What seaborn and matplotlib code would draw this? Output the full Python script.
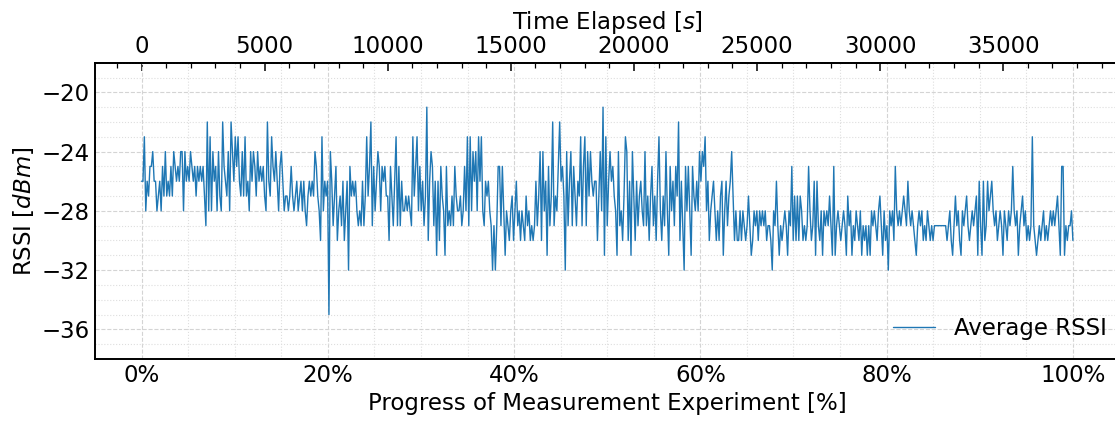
import numpy as np
import pandas as pd
import matplotlib
matplotlib.use("Agg")
import matplotlib.pyplot as plt
import seaborn as sns
from matplotlib.ticker import MultipleLocator, PercentFormatter

# ---- data (average RSSI in dBm, in chronological segments) ----
seg1 = [-26,-26,-23,-28,-26,-27,-25,-25,-24,-26,-26,-28,-27,-26,-28,-25,-27,-24,-27,-26,-27,-25,-27,-24,-25,-26,-25,-26,
        -24,-24,-28,-24,-26,-25,-26,-24,-25,-26,-25,-27,-25,-26,-25,-26,-25,-27,-29,-22,-28,-23,-28,-24,-26,-25,-28,-24,
        -27,-28,-22,-25,-26,-27,-24,-28,-22,-24,-26,-23,-25,-23,-26,-27,-24,-27,-23,-27,-26,-28,-24,-26,-24,-25,-27,-24,-26]
seg2 = [-25,-26,-25,-27,-28,-22,-26,-27,-23,-25,-26,-24,-26,-28,-25,-24,-26,-28,-27,-27,-28,-27,-25,-27,-28,-27,-26,-28,
        -27,-26,-28,-26,-28,-29,-27,-26,-27,-26,-27,-24,-25,-27,-28,-30,-23,-28,-26,-27,-26,-35,
        -24,-26,-29,-27,-25,-30,-28,-27,-29,-26,-30,-28,-26,-32,-25,-27,-26,-27,-26,-28,-29,-28,-29,-26,-29,-27,-23,-27,
        -25,-22,-29,-25,-28,-26,-24,-25]
seg3 = [-28,-25,-26,-25,-27,-27,-30,-25,-27,-29,-26,-23,-29,-25,-29,-26,-28,-28,-27,-28,-27,-28,-29,-23,-27,-25,-23,-28,
        -25,-28,-26,-29,-27,-21,-30,-26,-24,-25,-29,-26,-31,-26,-30,-25,-27,-28,-31,-25,-29,-28,-29,-27,-29,-25,-27,-28,
        -28,-27,-29,-28,-25,-28,-23,-29,-23,-28,-24,-26,-24,-28,-23,-26,-23,-28,-29,-26,-27,-26,-28,-29,-32,-29,-32,-29,-25]
seg4 = [-25,-29,-25,-28,-31,-28,-29,-30,-28,-27,-30,-28,-26,-29,-28,-30,-28,-29,-30,-27,-29,-28,-30,-29,-30,-29,-26,-29,
        -27,-24,-30,-24,-28,-26,-31,-25,-29,-27,-22,-29,-27,-28,-25,-22,-26,-25,-27,-32,-24,-29,-26,-24,-29,-25,-27,-29,
        -26,-27,-23,-29,-25,-23,-29,-24,-27,-24,-26,-27,-26,-26,-30,-27,-24,-28,-21,-31,-23,-29,-26,-24,-26,-25,-27,-28,-31,-24]
seg5 = [-29,-28,-30,-27,-23,-24,-30,-26,-31,-24,-27,-30,-26,-29,-27,-26,-28,-29,-24,-29,-27,-30,-27,-25,-29,-27,-30,-26,
        -23,-28,-30,-27,-29,-24,-28,-31,-25,-28,-26,-29,-25,-27,-22,-30,-26,-29,-32,-25,-28,-25,-28,-31,-25,-27,-28,-26,
        -28,-24,-26,-24,-25,-23,-28,-26,-30,-28,-27,-26,-28,-30,-28,-30,-27,-26,-31,-28,-26,-29,-27,-26,-24,-27,-30,-28,-30]
seg6 = [-30,-28,-30,-28,-29,-30,-29,-27,-29,-31,-30,-28,-29,-28,-30,-28,-29,-28,-29,-28,-30,-29,-29,-30,-32,-28,-29,
        -26,-29,-31,-29,-30,-29,-28,-29,-31,-28,-29,-25,-30,-27,-30,-27,-30,-27,-28,-30,-29,-30,-29,-25,-28,-30,-29,
        -26,-31,-26,-29,-30,-28,-31,-28,-29,-28,-29,-27,-29,-31,-25,-31,-29,-28,-29,-30,-29,-28,-29,-31,-27,-29,-28,
        -31,-29,-30,-28,-29]
seg7 = [-30,-28,-31,-29,-30,-29,-31,-29,-31,-28,-29,-28,-29,-30,-28,-27,-29,-31,-28,-30,-29,-32,-28,-29,-28,-30,-25,
        -28,-29,-28,-29,-28,-27,-28,-29,-26,-28,-29,-28,-29,-30,-31,-29,-28,-29,-28,-30,-29,-30,-28,-29,-30,-29,-30,
        -29,-29,-29,-29,-29,-29,-29,-29,-29,-30,-29,-28,-30,-31,-29,-27,-29,-28,-30,-31,-28,-29,-28,-27,-29,-30,-29,
        -28,-29,-28,-27,-31,-26]
seg8 = [-29,-31,-26,-30,-29,-26,-28,-27,-26,-28,-29,-28,-30,-29,-28,-29,-31,-28,-29,-30,-28,-29,-28,-25,
        -28,-29,-28,-31,-29,-28,-27,-29,-28,-30,-29,-30,-29,-23,-29,-30,-31,-30,-29,-30,-29,-28,-30,-29,-30,-29,
        -28,-29,-28,-29,-28,-27,-29,-31,-25,-25,-31,-29,-30,-29,-29,-28,-30]

total_seconds = 37830          # duration of the experiment
time_ticks = [0, 5000, 10000, 15000, 20000, 25000, 30000, 35000]
series_label = "Average RSSI"

rssi = np.array(seg1 + seg2 + seg3 + seg4 + seg5 + seg6 + seg7 + seg8, dtype=float)
progress = np.linspace(0, 100, len(rssi))
df = pd.DataFrame({"progress": progress, "rssi": rssi})

# ---- style ----
sns.set_theme(style="white")
plt.rcParams["font.family"] = ["DejaVu Sans"]
plt.rcParams["mathtext.fontset"] = "dejavusans"
for k in ["text.color", "axes.labelcolor", "xtick.color", "ytick.color"]:
    plt.rcParams[k] = "black"

FS = 16.5

fig, ax = plt.subplots(figsize=(11.15, 4.22), dpi=100)
sns.lineplot(data=df, x="progress", y="rssi", ax=ax, color="#1f77b4",
             linewidth=1.0, label=series_label)

ax.set_ylim(-38, -18)
ax.xaxis.set_major_locator(MultipleLocator(20))
ax.xaxis.set_minor_locator(MultipleLocator(5))
ax.xaxis.set_major_formatter(PercentFormatter(decimals=0))
ax.yaxis.set_major_locator(MultipleLocator(4))
ax.yaxis.set_minor_locator(MultipleLocator(1))

ax.grid(which="major", linestyle="--", color="#d4d4d4", linewidth=0.8)
ax.grid(which="minor", linestyle=":", color="#dedede", linewidth=0.8)
ax.set_axisbelow(True)

for s in ax.spines.values():
    s.set_linewidth(1.4)
    s.set_color("black")

ax.tick_params(which="both", direction="in", labelsize=FS, right=False, color="black")
ax.tick_params(which="major", length=6, width=1.1)
ax.tick_params(which="minor", length=3.5, width=0.9)

ax.set_xlabel("Progress of Measurement Experiment [%]", fontsize=FS)
ax.set_ylabel("RSSI [$dBm$]", fontsize=FS)

sec = ax.secondary_xaxis("top", functions=(lambda p: p * total_seconds / 100.0,
                                           lambda t: t * 100.0 / total_seconds))
sec.set_xticks(time_ticks)
sec.xaxis.set_minor_locator(MultipleLocator(1000))
sec.tick_params(which="both", direction="in", labelsize=FS, color="black")
sec.tick_params(which="major", length=6, width=1.1)
sec.tick_params(which="minor", length=3.5, width=0.9)
sec.set_xlabel("Time Elapsed [$s$]", fontsize=FS)

leg = ax.legend(loc="lower right", bbox_to_anchor=(1.0075, -0.0067), frameon=False,
                fontsize=FS, handlelength=1.85)

fig.subplots_adjust(left=0.0852, right=1.004, bottom=0.1493, top=0.8514)
fig.savefig("out.png", dpi=100)
